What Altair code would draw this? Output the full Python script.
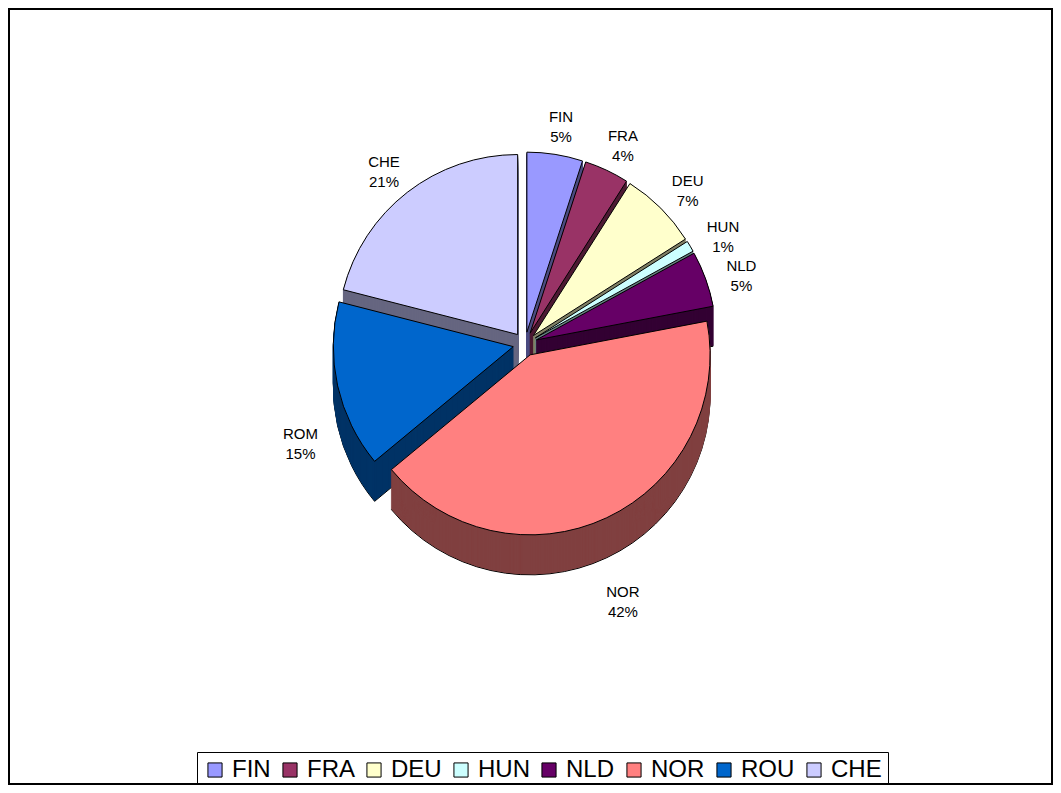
import altair as alt
import pandas as pd

codes = ["FIN", "FRA", "DEU", "HUN", "NLD", "NOR", "ROU", "CHE"]
label_names = ["FIN", "FRA", "DEU", "HUN", "NLD", "NOR", "ROM", "CHE"]
shares = [5, 4, 7, 1, 5, 42, 15, 21]
top_colors = ["#9999FF", "#993366", "#FFFFCC", "#CCFFFF", "#660066", "#FF8080", "#0066CC", "#CCCCFF"]
side_colors = ["#4C4C80", "#4D1A33", "#808066", "#668080", "#330033", "#804040", "#003366", "#666680"]

df = pd.DataFrame({
    "code": codes,
    "label": label_names,
    "share": shares,
    "order": list(range(len(codes))),
    "side": side_colors,
})

CX, CY = 516, 335
R = 180
DEPTH = 40
EXPL = 12
LOFF = 38
FONT = "Liberation Sans"

theta_scale = alt.Scale(domain=[0, 100], range=[0, 6.283185307179586])

base = (
    alt.Chart(df)
    .transform_window(cum="sum(share)", sort=[alt.SortField("order")], frame=[None, 0])
    .transform_calculate(
        start="datum.cum - datum.share",
        mid="(datum.cum - datum.share / 2) / 100 * 2 * PI",
    )
    .transform_calculate(
        px=f"{CX} + {EXPL} * sin(datum.mid)",
        py=f"{CY} - {EXPL} * cos(datum.mid)",
        lx=f"{CX} + {R + EXPL + LOFF} * sin(datum.mid)",
        ly=f"{CY} - {R + EXPL + LOFF} * cos(datum.mid) + (cos(datum.mid) < 0 ? {DEPTH} : 0)",
        txt="datum.label + '\\n' + datum.share + '%'",
    )
)

layers = []
steps = 40
for k in range(steps, 0, -1):
    off = DEPTH * k / steps
    last = k == steps
    enc = dict(
        x=alt.X("px:Q", scale=None),
        y=alt.Y("sy:Q", scale=None),
        theta=alt.Theta("start:Q", scale=theta_scale),
        theta2="cum:Q",
        color=alt.Color("side:N", scale=None),
    )
    if last:
        mk = base.transform_calculate(sy=f"datum.py + {off}").mark_arc(
            outerRadius=R, stroke="black", strokeWidth=1
        ).encode(**enc)
    else:
        mk = base.transform_calculate(sy=f"datum.py + {off}").mark_arc(
            outerRadius=R, strokeWidth=1
        ).encode(stroke=alt.Stroke("side:N", scale=None), **enc)
    layers.append(mk)

top = base.mark_arc(outerRadius=R, stroke="black", strokeWidth=1).encode(
    x=alt.X("px:Q", scale=None),
    y=alt.Y("py:Q", scale=None),
    theta=alt.Theta("start:Q", scale=theta_scale),
    theta2="cum:Q",
    color=alt.Color(
        "code:N",
        scale=alt.Scale(domain=codes, range=top_colors),
        legend=alt.Legend(
            title=None,
            orient="none",
            direction="horizontal",
            columns=8,
            legendX=188,
            legendY=743,
            symbolType="square",
            symbolSize=200,
            symbolStrokeColor="black",
            symbolStrokeWidth=1,
            symbolOpacity=1,
            labelFontSize=24,
            labelFont=FONT,
            labelColor="black",
            labelLimit=0,
            labelOffset=5,
            columnPadding=7,
            strokeColor="black",
            padding=6,
        ),
    ),
)
layers.append(top)

labels = base.mark_text(
    font=FONT, fontSize=15, lineBreak="\n", align="center", baseline="middle", color="black", lineHeight=20
).encode(
    x=alt.X("lx:Q", scale=None),
    y=alt.Y("ly:Q", scale=None),
    text="txt:N",
)
layers.append(labels)

chart = (
    alt.layer(*layers)
    .properties(
        width=1043,
        height=775,
        padding=1,
        autosize=alt.AutoSizeParams(type="none"),
        view=alt.ViewBackground(stroke="black", strokeWidth=2),
    )
    .configure_view(stroke="black", strokeWidth=2)
    .configure(font=FONT)
)

chart.save("out.html", embed_options={"renderer": "svg", "actions": False})
